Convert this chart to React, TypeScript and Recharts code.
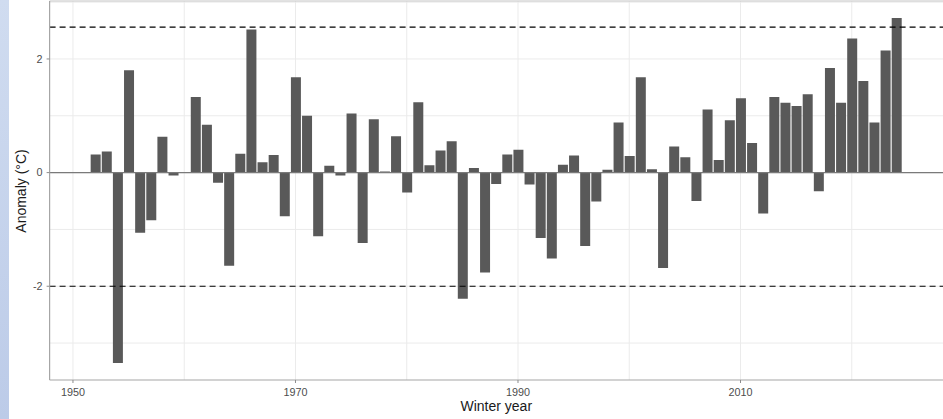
import {
  BarChart,
  Bar,
  XAxis,
  YAxis,
  CartesianGrid,
  ReferenceLine,
} from "recharts";

// winter years and their temperature anomaly (°C)
const years = [
  1952, 1953, 1954, 1955, 1956, 1957, 1958, 1959, 1960, 1961, 1962, 1963,
  1964, 1965, 1966, 1967, 1968, 1969, 1970, 1971, 1972, 1973, 1974, 1975,
  1976, 1977, 1978, 1979, 1980, 1981, 1982, 1983, 1984, 1985, 1986, 1987,
  1988, 1989, 1990, 1991, 1992, 1993, 1994, 1995, 1996, 1997, 1998, 1999,
  2000, 2001, 2002, 2003, 2004, 2005, 2006, 2007, 2008, 2009, 2010, 2011,
  2012, 2013, 2014, 2015, 2016, 2017, 2018, 2019, 2020, 2021, 2022, 2023,
  2024,
];

const anomalies = [
  0.32, 0.37, -3.35, 1.8, -1.06, -0.84, 0.63, -0.05, 0.01, 1.33, 0.84, -0.18,
  -1.64, 0.33, 2.52, 0.18, 0.31, -0.77, 1.68, 1.0, -1.12, 0.12, -0.05, 1.04,
  -1.24, 0.94, 0.02, 0.64, -0.35, 1.24, 0.13, 0.39, 0.55, -2.22, 0.08, -1.76,
  -0.2, 0.32, 0.4, -0.21, -1.15, -1.51, 0.14, 0.3, -1.29, -0.51, 0.05, 0.88,
  0.29, 1.68, 0.06, -1.68, 0.46, 0.27, -0.5, 1.11, 0.22, 0.92, 1.31, 0.52,
  -0.72, 1.33, 1.23, 1.17, 1.38, -0.33, 1.84, 1.23, 2.36, 1.61, 0.88, 2.15,
  2.72,
];

const xTicks = [1950, 1970, 1990, 2010];
const yTicks = [-2, 0, 2];
const xGrid = [1950, 1960, 1970, 1980, 1990, 2000, 2010, 2020];
const yGrid = [-3, -2, -1, 0, 1, 2, 3];
const thresholds = [2.56, -2];

const X_DOMAIN: [number, number] = [1947.9, 2028.2];
const Y_DOMAIN: [number, number] = [-3.65, 3.02];

const FONT = '"Liberation Sans", Arial, Helvetica, sans-serif';

export default function App() {
  const data = years.map((year, i) => ({ year, anomaly: anomalies[i] }));

  return (
    <div
      style={{
        position: "absolute",
        top: 0,
        left: 0,
        width: 943,
        height: 419,
        background: "#fff",
        overflow: "hidden",
        fontFamily: FONT,
      }}
    >
      {/* blue strip on the left edge */}
      <div
        style={{
          position: "absolute",
          left: 0,
          top: 0,
          width: 9,
          height: 419,
          background: "linear-gradient(to bottom, #d0dcf0, #bccbe8)",
        }}
      />
      <BarChart
        width={943}
        height={419}
        data={data}
        margin={{ top: 1, right: 0, bottom: 0, left: 0 }}
      >
        <CartesianGrid
          stroke="#ebebeb"
          horizontalValues={yGrid}
          verticalValues={xGrid}
        />
        <XAxis
          dataKey="year"
          type="number"
          domain={X_DOMAIN}
          ticks={xTicks}
          allowDataOverflow
          height={39}
          tickSize={3}
          tickMargin={5}
          axisLine={{ stroke: "#a6a6a6", strokeWidth: 1.2 }}
          tickLine={{ stroke: "#8c8c8c" }}
          tick={{ fill: "#4d4d4d", fontSize: 10.8, fontFamily: FONT }}
        />
        <YAxis
          type="number"
          domain={Y_DOMAIN}
          ticks={yTicks}
          allowDataOverflow
          width={49.6}
          tickSize={3}
          tickMargin={4}
          axisLine={{ stroke: "#a6a6a6", strokeWidth: 1.2 }}
          tickLine={{ stroke: "#8c8c8c" }}
          tick={{ fill: "#4d4d4d", fontSize: 10.8, fontFamily: FONT }}
        />
        {/* top panel border */}
        <ReferenceLine y={Y_DOMAIN[1]} stroke="#c4c4c4" strokeWidth={1} />
        <ReferenceLine y={0} stroke="#7a7a7a" strokeWidth={1.2} />
        <Bar
          dataKey="anomaly"
          fill="#595959"
          barSize={10}
          isAnimationActive={false}
        />
        {thresholds.map((t) => (
          <ReferenceLine
            key={t}
            y={t}
            stroke="#000"
            strokeWidth={1.2}
            strokeDasharray="6 4"
          />
        ))}
      </BarChart>
      <div
        style={{
          position: "absolute",
          left: 0,
          width: 943 + 49.6,
          top: 398,
          textAlign: "center",
          fontSize: 14,
          color: "#1a1a1a",
          whiteSpace: "nowrap",
        }}
      >
        Winter year
      </div>
      <div
        style={{
          position: "absolute",
          left: 21,
          top: 191,
          transform: "translate(-50%, -50%) rotate(-90deg)",
          fontSize: 14,
          color: "#1a1a1a",
          whiteSpace: "nowrap",
        }}
      >
        Anomaly (°C)
      </div>
    </div>
  );
}
